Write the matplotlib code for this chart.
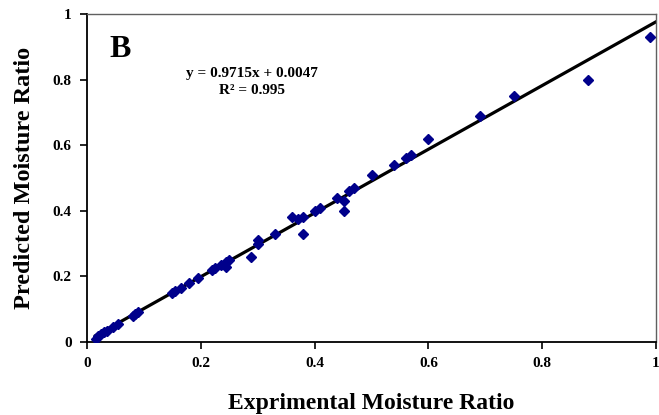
import matplotlib
matplotlib.use("Agg")
import matplotlib.pyplot as plt
import numpy as np

exp_mr = [0.015, 0.02, 0.025, 0.03, 0.035, 0.045, 0.055, 0.08, 0.085, 0.09,
          0.15, 0.155, 0.165, 0.18, 0.195, 0.22, 0.225, 0.235, 0.245, 0.245,
          0.25, 0.288, 0.30, 0.30, 0.33, 0.36, 0.37, 0.38, 0.38, 0.40,
          0.41, 0.44, 0.452, 0.452, 0.46, 0.47, 0.50, 0.54, 0.56, 0.57,
          0.60, 0.69, 0.75, 0.88, 0.99]
pred_mr = [0.01, 0.018, 0.025, 0.03, 0.035, 0.047, 0.055, 0.08, 0.085, 0.09,
           0.15, 0.155, 0.165, 0.18, 0.195, 0.22, 0.225, 0.235, 0.23, 0.245,
           0.25, 0.26, 0.30, 0.31, 0.33, 0.38, 0.375, 0.38, 0.33, 0.40,
           0.41, 0.44, 0.43, 0.40, 0.46, 0.47, 0.51, 0.54, 0.56, 0.57,
           0.62, 0.69, 0.75, 0.80, 0.93]
slope, intercept = 0.9715, 0.0047
tick_vals = [0, 0.2, 0.4, 0.6, 0.8, 1]
tick_labels = ["0", "0.2", "0.4", "0.6", "0.8", "1"]

plt.rcParams['font.family'] = ['Liberation Serif', 'DejaVu Serif']
plt.rcParams['font.weight'] = 'bold'

fig = plt.figure(figsize=(6.59, 4.15), dpi=100)
ax = fig.add_axes([87/659, 1 - 342/415, (656-87)/659, (342-14)/415])

xl = np.array([min(exp_mr), 1.0])
ax.plot(xl, slope*xl + intercept, color='black', lw=2.3, zorder=2)
ax.plot(exp_mr, pred_mr, linestyle='none', marker='D', markersize=5.5,
        color='#00008B', zorder=3)

ax.set_xlim(0, 1)
ax.set_ylim(0, 1)
ax.set_xticks(tick_vals)
ax.set_xticklabels(tick_labels)
ax.set_yticks(tick_vals)
ax.set_yticklabels(tick_labels)
ax.tick_params(direction='out', length=5, width=1.2, labelsize=11, pad=6)
for lab in ax.get_xticklabels() + ax.get_yticklabels():
    lab.set_fontweight('bold')

for s in ['left', 'bottom']:
    ax.spines[s].set_color('black')
    ax.spines[s].set_linewidth(1.3)
for s in ['top', 'right']:
    ax.spines[s].set_color('#606060')
    ax.spines[s].set_linewidth(1.0)

ax.set_xlabel("Exprimental Moisture Ratio", fontsize=17, fontweight='bold', labelpad=16)
ax.set_ylabel("Predicted Moisture Ratio", fontsize=17.5, fontweight='bold', labelpad=13)

ax.text(0.04, 0.935, "B", transform=ax.transAxes, fontsize=23, fontweight='bold',
        va='top', ha='left')
ax.text(0.29, 0.793, "y = 0.9715x + 0.0047\nR\u00b2 = 0.995", transform=ax.transAxes,
        fontsize=11, fontweight='bold', ha='center', va='center', linespacing=1.45)

fig.savefig("out.png", dpi=100)
